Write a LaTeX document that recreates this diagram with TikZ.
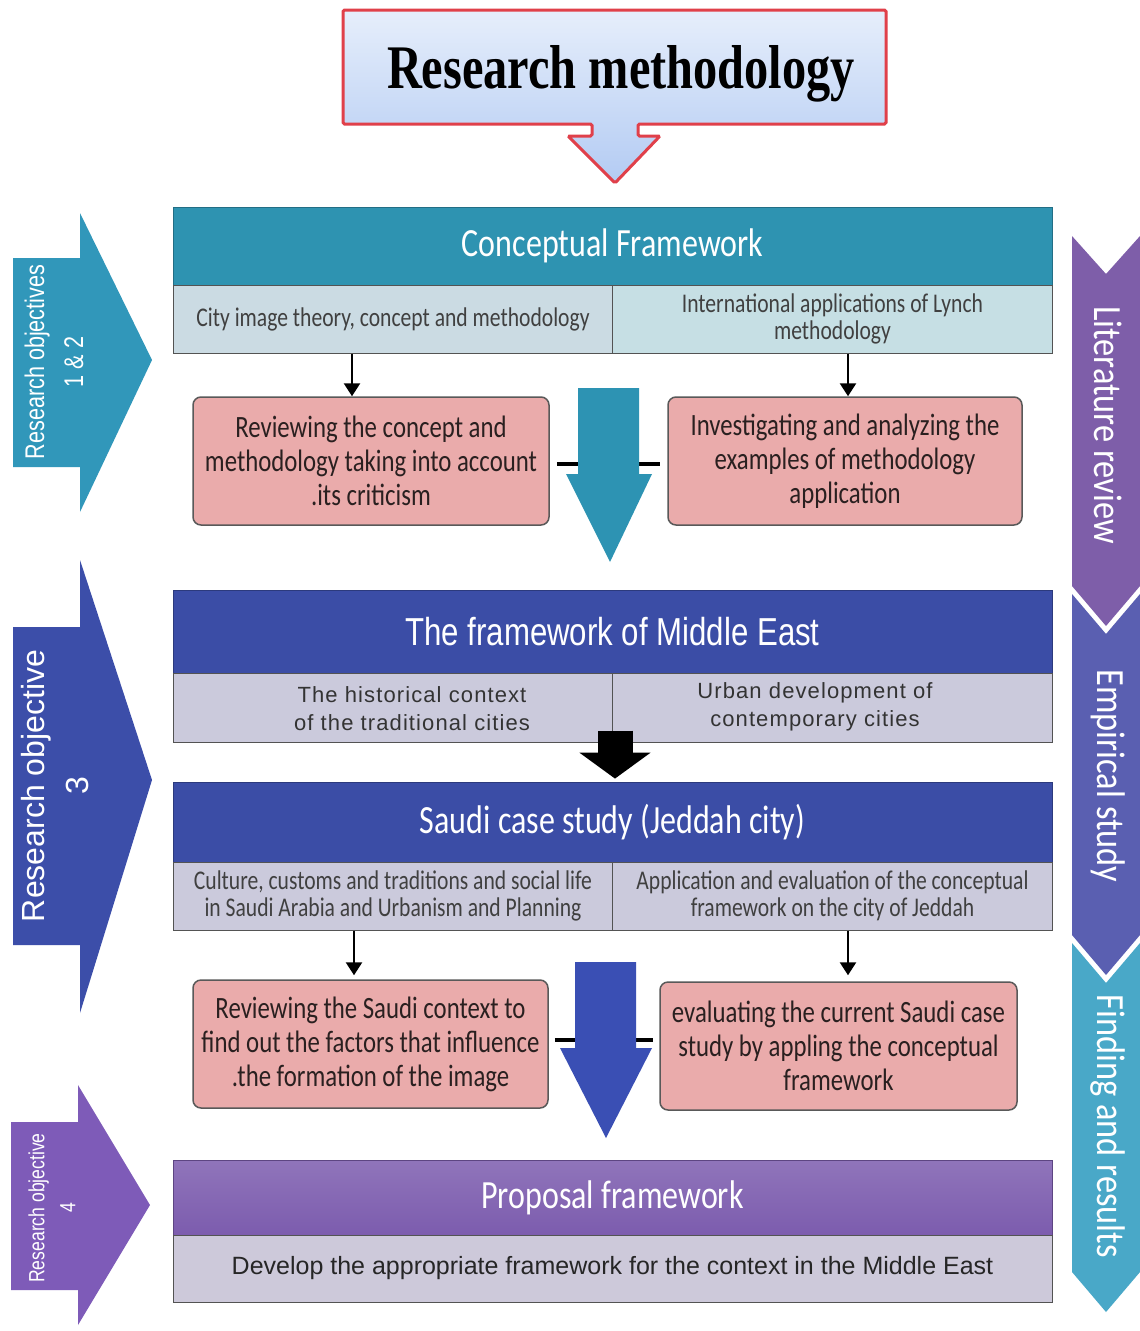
\documentclass[tikz,border=0pt]{standalone}
\usepackage{fontspec}
\usepackage{graphicx}
\setmainfont{Carlito}
\newfontfamily\narrowf{Carlito}[FakeStretch=0.8]
\newfontfamily\sidef{Carlito}[FakeStretch=0.86]
\newfontfamily\arialf{Liberation Sans}
\newfontfamily\arialsp{Liberation Sans}[LetterSpace=5]
\newfontfamily\arialnf{Liberation Sans}[FakeStretch=0.8]
\newfontfamily\titlef{Liberation Serif}[FakeStretch=0.78]
\usetikzlibrary{arrows.meta}

\definecolor{titlered}{HTML}{E0404A}
\definecolor{titletop}{HTML}{E6EEFB}
\definecolor{titlebot}{HTML}{B3CBF3}
\definecolor{tealhdr}{HTML}{2E93B1}
\definecolor{tealsubL}{HTML}{CBDBE3}
\definecolor{tealsubR}{HTML}{C6DFE4}
\definecolor{pinkbox}{HTML}{EAABAB}
\definecolor{bluehdr}{HTML}{3B4DA6}
\definecolor{bluesub}{HTML}{CBCADC}
\definecolor{purphdr}{HTML}{7C5CAE}
\definecolor{purpsub}{HTML}{CDC9DA}
\definecolor{lteal}{HTML}{3197BA}
\definecolor{lblue}{HTML}{3C4EA9}
\definecolor{lpurp}{HTML}{7E5BB8}
\definecolor{rpurp}{HTML}{7E5EA9}
\definecolor{rblue}{HTML}{5A5FB1}
\definecolor{rteal}{HTML}{49A8C8}
\definecolor{bigteal}{HTML}{2D93B3}
\definecolor{bigblue}{HTML}{3A4FB4}
\definecolor{darktxt}{HTML}{2A2020}
\definecolor{subtxt}{HTML}{404040}

\begin{document}
\begin{tikzpicture}[x=1pt,y=-1pt,
  hdr/.style={draw=#1!75!black, line width=0.8pt, fill=#1, minimum width=879pt,
    inner sep=0pt, text=white},
  subcell/.style={draw=gray!65!black, line width=1pt, fill=#1, minimum width=440pt,
    minimum height=68pt, inner sep=0pt, text=subtxt, align=center},
  cellfont/.style={font=\narrowf\fontsize{27}{27}\selectfont},
  arialcell/.style={text=black!80, align=center, inner sep=0pt,
    font=\arialsp\fontsize{22}{28}\selectfont},
  pinkstyle/.style={draw=black!65, line width=1.5pt, fill=pinkbox, rounded corners=8pt,
    minimum width=356pt, minimum height=128pt, inner sep=0pt, text=darktxt, align=center,
    font=\narrowf\fontsize{31}{34}\selectfont},
  downarrow/.style={line width=2.6pt, -{Triangle[width=16pt,length=13pt]}},
  linkdash/.style={line width=3.5pt},
  sidetxt/.style={text=white, align=center, inner sep=0pt},
]
\useasboundingbox (0,0) rectangle (1140,1331);
\fill[white] (0,0) rectangle (1140,1331);

% ---------- title with its down arrow ----------
\path[draw=titlered, line width=3pt, top color=titletop, bottom color=titlebot,
  rounded corners=1.5pt]
  (343,10) -- (886,10) -- (886,124) -- (638,124) -- (638,136) -- (660,136)
  -- (615,183) -- (568,136) -- (592,136) -- (592,124) -- (343,124) -- cycle;
\node (title) at (621,74) {\titlef\bfseries\fontsize{62}{62}\selectfont Research methodology};

% ---------- right-hand chevrons ----------
\fill[rpurp] (1072,236) -- (1106,274) -- (1140,236) -- (1140,586) -- (1106,626) -- (1072,586) -- cycle;
\fill[rblue] (1072,594) -- (1106,634) -- (1140,594) -- (1140,935) -- (1106,975) -- (1072,935) -- cycle;
\fill[rteal] (1072,943) -- (1106,983) -- (1140,943) -- (1140,1272) -- (1106,1312) -- (1072,1272) -- cycle;
\node[sidetxt, rotate=-90] (litrev) at (1108,425) {\sidef\fontsize{40}{40}\selectfont Literature review};
\node[sidetxt, rotate=-90] (empst) at (1108,776) {\sidef\fontsize{40}{40}\selectfont Empirical study};
\node[sidetxt, rotate=-90] (findres) at (1108,1126) {\sidef\fontsize{40}{40}\selectfont Finding and results};

% ---------- left-hand objective arrows ----------
\fill[lteal] (13,258) -- (80,258) -- (80,213) -- (152,360) -- (80,512) -- (80,467) -- (13,467) -- cycle;
\fill[lblue] (13,627) -- (80,627) -- (80,560) -- (152,780) -- (80,1013) -- (80,945) -- (13,945) -- cycle;
\fill[lpurp] (11,1122) -- (78,1122) -- (78,1085) -- (150,1205) -- (78,1325) -- (78,1290) -- (11,1290) -- cycle;
\node[sidetxt, rotate=90, font=\arialnf\fontsize{27}{39}\selectfont] (obj12) at (54,362)
  {Research objectives\\1 \& 2};
\node[sidetxt, rotate=90, font=\arialf\fontsize{32}{44}\selectfont] (obj3) at (55,786)
  {Research objective\\3};
\node[sidetxt, rotate=90, font=\arialnf\fontsize{22}{31}\selectfont] (obj4) at (52,1208)
  {Research objective\\4};

% ---------- conceptual framework block ----------
\node[hdr=tealhdr, minimum height=78pt] (cf) at (612.5,246)
  {\narrowf\fontsize{40}{40}\selectfont Conceptual Framework};
\node[subcell=tealsubL, cellfont] (cfL) at (393,319)
  {City image theory, concept and methodology};
\node[subcell=tealsubR, cellfont] (cfR) at (832.5,319)
  {International applications of Lynch\\methodology};

\node[pinkstyle] (rev1) at (371,461)
  {Reviewing the concept and\\methodology taking into account\\.its criticism};
\node[pinkstyle, minimum width=354pt] (inv1) at (845,461)
  {Investigating and analyzing the\\examples of methodology\\application};

\coordinate (ax1) at (352,0);
\coordinate (ax2) at (848,0);
\draw[downarrow] (cfL.south -| ax1) -- (rev1.north -| ax1);
\draw[downarrow] (cfR.south -| ax2) -- (inv1.north -| ax2);

\coordinate (tshaftL) at (579,464);
\coordinate (tshaftR) at (638,464);
\draw[linkdash] ([xshift=7pt,yshift=-3pt]rev1.east) -- (tshaftL);
\draw[linkdash] (tshaftR) -- ([xshift=-7pt,yshift=-3pt]inv1.west);
\fill[bigteal] (578,388) -- (639,388) -- (639,474) -- (652,474) -- (610,562) -- (566,474) -- (578,474) -- cycle;

% ---------- Middle East block ----------
\node[hdr=bluehdr, minimum height=83pt] (me) at (612.5,631.5)
  {\arialnf\fontsize{39}{39}\selectfont The framework of Middle East};
\node[subcell=bluesub, minimum height=69pt] (meL) at (393,707.5) {};
\node[subcell=bluesub, minimum height=69pt] (meR) at (832.5,707.5) {};
\node[arialcell] (meLt) at (412,709) {The historical context\\of the traditional cities};
\node[arialcell] (meRt) at (815,707) {Urban development of\\contemporary cities};

% ---------- Saudi case study block ----------
\node[hdr=bluehdr, minimum height=80pt] (sa) at (612.5,822)
  {\narrowf\fontsize{40}{40}\selectfont Saudi case study (Jeddah city)};
\node[subcell=bluesub, cellfont] (saL) at (393,896)
  {Culture, customs and traditions and social life\\in Saudi Arabia and Urbanism and Planning};
\node[subcell=bluesub, cellfont] (saR) at (832.5,896)
  {Application and evaluation of the conceptual\\framework on the city of Jeddah};

\coordinate (mx) at (615,0);
\draw[line width=35pt, -{Triangle[width=70pt,length=26pt]}]
  ([yshift=12pt]meL.south -| mx) -- ([yshift=3pt]sa.north -| mx);

\node[pinkstyle, minimum width=355pt] (rev2) at (370.5,1044)
  {Reviewing the Saudi context to\\find out the factors that influence\\.the formation of the image};
\node[pinkstyle, minimum width=357pt] (eva2) at (838.5,1046)
  {evaluating the current Saudi case\\study by appling the conceptual\\framework};

\coordinate (bx1) at (354,0);
\coordinate (bx2) at (848,0);
\draw[downarrow] (saL.south -| bx1) -- ([yshift=4pt]rev2.north -| bx1);
\draw[downarrow] (saR.south -| bx2) -- ([yshift=6pt]eva2.north -| bx2);

\coordinate (bshaftL) at (576,1040);
\coordinate (bshaftR) at (635,1040);
\draw[linkdash] ([xshift=6pt,yshift=4pt]rev2.east) -- (bshaftL);
\draw[linkdash] (bshaftR) -- ([xshift=-6pt,yshift=6pt]eva2.west);
\fill[bigblue] (575,962) -- (636,962) -- (636,1048) -- (652,1048) -- (606,1138) -- (560,1048) -- (575,1048) -- cycle;

% ---------- proposal block ----------
\node[hdr=purphdr, minimum height=75pt, top color=purphdr!85!white, bottom color=purphdr]
  (pf) at (612.5,1197.5) {\narrowf\fontsize{40}{40}\selectfont Proposal framework};
\node[subcell=purpsub, minimum width=879pt, minimum height=67pt, text=black!85] (pfS) at (612.5,1268.5)
  {\arialf\fontsize{25}{25}\selectfont Develop the appropriate framework for the context in the Middle East};
\end{tikzpicture}
\end{document}
